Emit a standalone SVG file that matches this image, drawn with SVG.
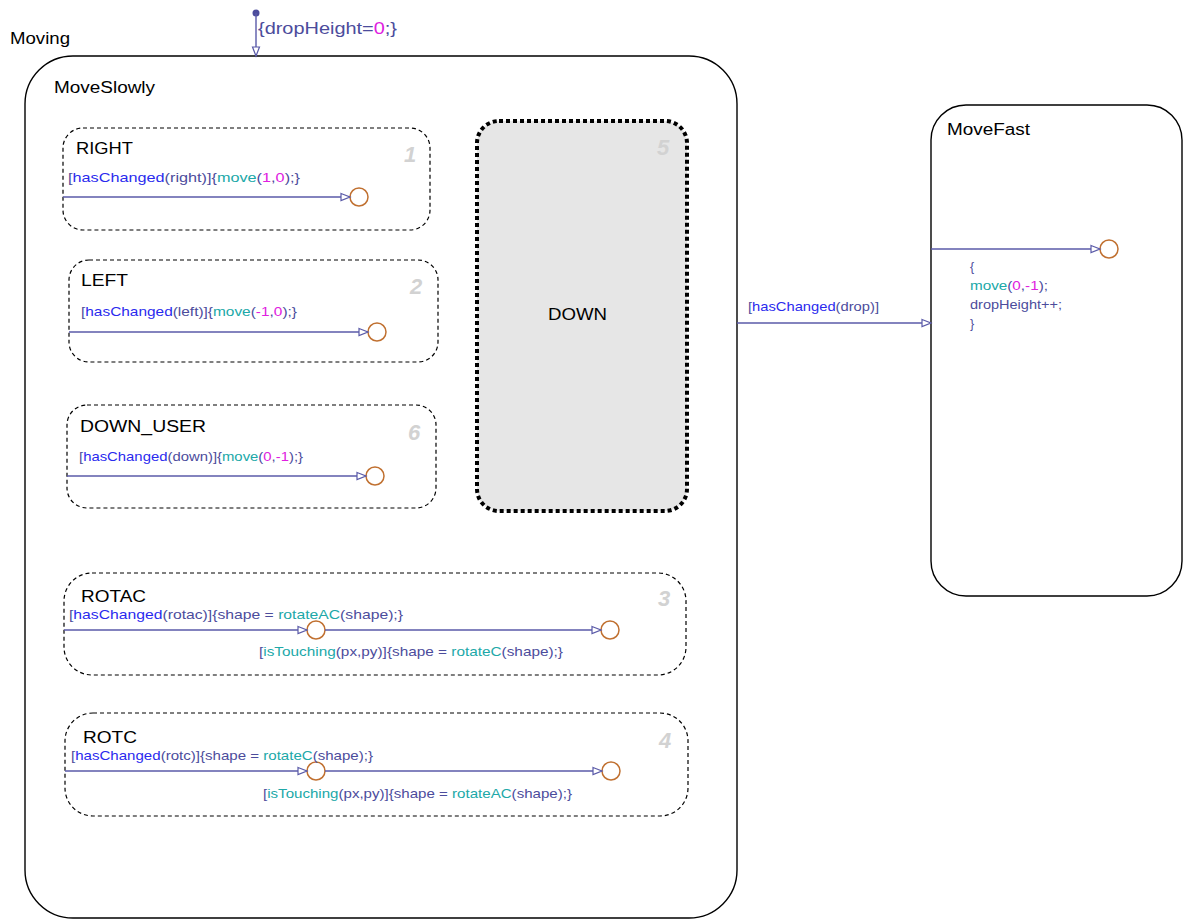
<svg xmlns="http://www.w3.org/2000/svg" width="1183" height="919" viewBox="0 0 1183 919">
<defs>
<marker id="arr" markerWidth="12" markerHeight="10" refX="10" refY="5" orient="auto" markerUnits="userSpaceOnUse">
<path d="M1,1.5 L10,5 L1,8.5 Z" fill="white" stroke="#5a5aa8" stroke-width="1.2"/>
</marker>
</defs>
<style>
text{font-family:"Liberation Sans",Arial,sans-serif}
.st{fill:#000;font-size:16px}
.lb{font-size:13.5px;fill:#4c4c9c}
.b{fill:#2a2aee}
.t{fill:#20a8a8}
.m{fill:#e020e0}
.num{font-size:22px;font-weight:bold;font-style:italic;fill:#d2d2d2}
.sub{fill:none;stroke:#000;stroke-width:1.2;stroke-dasharray:4,3}
.ln{stroke:#5a5aa8;stroke-width:1.4;fill:none;marker-end:url(#arr)}
.jn{fill:#fff;stroke:#c07030;stroke-width:1.5}
.box{fill:#fff;stroke:#000;stroke-width:1.4}
</style>
<rect width="1183" height="919" fill="#fff"/>
<text x="10" y="44" class="st" textLength="60" lengthAdjust="spacingAndGlyphs">Moving</text>
<g id="MoveSlowly">
<rect x="25" y="56" width="712" height="862" rx="48" class="box"/>
<text x="54" y="93" class="st" textLength="101" lengthAdjust="spacingAndGlyphs">MoveSlowly</text>
</g>
<g id="MoveFast">
<rect x="931" y="105" width="251" height="491" rx="35" class="box"/>
<text x="947" y="135" class="st" textLength="83" lengthAdjust="spacingAndGlyphs">MoveFast</text>
</g>
<g id="RIGHT">
<rect x="63" y="128" width="367" height="102" rx="20" class="sub"/>
<text x="76" y="154" class="st" textLength="57" lengthAdjust="spacingAndGlyphs">RIGHT</text>
<text x="404" y="162" class="num">1</text>
</g>
<g id="LEFT">
<rect x="69" y="260" width="369" height="102" rx="20" class="sub"/>
<text x="81" y="286" class="st" textLength="47" lengthAdjust="spacingAndGlyphs">LEFT</text>
<text x="410" y="294" class="num">2</text>
</g>
<g id="DOWN_USER">
<rect x="67" y="405" width="369" height="103" rx="20" class="sub"/>
<text x="80" y="432" class="st" textLength="126" lengthAdjust="spacingAndGlyphs">DOWN_USER</text>
<text x="408" y="440" class="num">6</text>
</g>
<g id="DOWN">
<rect x="477" y="121" width="210" height="390" rx="22" fill="#e6e6e6" stroke="#000" stroke-width="4" stroke-dasharray="4,3"/>
<text x="548" y="320" class="st" textLength="59" lengthAdjust="spacingAndGlyphs">DOWN</text>
<text x="657" y="155" class="num">5</text>
</g>
<g id="ROTAC">
<rect x="64" y="573" width="622" height="102" rx="28" class="sub"/>
<text x="81" y="602" class="st" textLength="65" lengthAdjust="spacingAndGlyphs">ROTAC</text>
<text x="658" y="606" class="num">3</text>
</g>
<g id="ROTC">
<rect x="65" y="713" width="623" height="103" rx="28" class="sub"/>
<text x="83" y="743" class="st" textLength="54" lengthAdjust="spacingAndGlyphs">ROTC</text>
<text x="659" y="748" class="num">4</text>
</g>
<g id="junctions">
<circle cx="359" cy="197" r="9" class="jn"/>
<circle cx="377" cy="332" r="9" class="jn"/>
<circle cx="375" cy="476" r="9" class="jn"/>
<circle cx="316" cy="630" r="9" class="jn"/>
<circle cx="610" cy="630" r="9" class="jn"/>
<circle cx="316" cy="771" r="9" class="jn"/>
<circle cx="611" cy="771" r="9" class="jn"/>
<circle cx="1109" cy="249" r="9" class="jn"/>
</g>
<g id="connectors">
<circle cx="256" cy="13" r="3.5" fill="#4c4c9c"/>
<line x1="256" y1="13" x2="256" y2="56" class="ln"/>
<line x1="63" y1="197" x2="350" y2="197" class="ln"/>
<line x1="69" y1="332" x2="368" y2="332" class="ln"/>
<line x1="67" y1="476" x2="366" y2="476" class="ln"/>
<line x1="64" y1="630" x2="307" y2="630" class="ln"/>
<line x1="325" y1="630" x2="601" y2="630" class="ln"/>
<line x1="65" y1="771" x2="307" y2="771" class="ln"/>
<line x1="325" y1="771" x2="602" y2="771" class="ln"/>
<line x1="737" y1="323" x2="931" y2="323" class="ln"/>
<line x1="931" y1="249" x2="1100" y2="249" class="ln"/>
</g>
<g id="labels">
<text x="258" y="34" class="lb" style="font-size:17px" textLength="139" lengthAdjust="spacingAndGlyphs">{dropHeight=<tspan class="m">0</tspan>;}</text>
<text x="68" y="182" class="lb" textLength="232" lengthAdjust="spacingAndGlyphs">[<tspan class="b">hasChanged</tspan>(right)]{<tspan class="t">move</tspan>(<tspan class="m">1</tspan>,<tspan class="m">0</tspan>);}</text>
<text x="81" y="316" class="lb" textLength="216" lengthAdjust="spacingAndGlyphs">[<tspan class="b">hasChanged</tspan>(left)]{<tspan class="t">move</tspan>(<tspan class="m">-1</tspan>,<tspan class="m">0</tspan>);}</text>
<text x="79" y="461" class="lb" textLength="224" lengthAdjust="spacingAndGlyphs">[<tspan class="b">hasChanged</tspan>(down)]{<tspan class="t">move</tspan>(<tspan class="m">0</tspan>,<tspan class="m">-1</tspan>);}</text>
<text x="69" y="619" class="lb" textLength="334" lengthAdjust="spacingAndGlyphs">[<tspan class="b">hasChanged</tspan>(rotac)]{shape = <tspan class="t">rotateAC</tspan>(shape);}</text>
<text x="259" y="656" class="lb" textLength="304" lengthAdjust="spacingAndGlyphs">[<tspan class="t">isTouching</tspan>(px,py)]{shape = <tspan class="t">rotateC</tspan>(shape);}</text>
<text x="71" y="760" class="lb" textLength="302" lengthAdjust="spacingAndGlyphs">[<tspan class="b">hasChanged</tspan>(rotc)]{shape = <tspan class="t">rotateC</tspan>(shape);}</text>
<text x="263" y="798" class="lb" textLength="309" lengthAdjust="spacingAndGlyphs">[<tspan class="t">isTouching</tspan>(px,py)]{shape = <tspan class="t">rotateAC</tspan>(shape);}</text>
<text x="748" y="311" class="lb" textLength="131" lengthAdjust="spacingAndGlyphs">[<tspan class="b">hasChanged</tspan>(drop)]</text>
<text x="970" y="271" class="lb" style="font-size:12.5px">{</text>
<text x="970" y="290" class="lb" style="font-size:12.5px" textLength="78" lengthAdjust="spacingAndGlyphs"><tspan class="t">move</tspan>(<tspan class="m">0</tspan>,<tspan class="m">-1</tspan>);</text>
<text x="970" y="309" class="lb" style="font-size:12.5px" textLength="92" lengthAdjust="spacingAndGlyphs">dropHeight++;</text>
<text x="970" y="328" class="lb" style="font-size:12.5px">}</text>
</g>
</svg>
